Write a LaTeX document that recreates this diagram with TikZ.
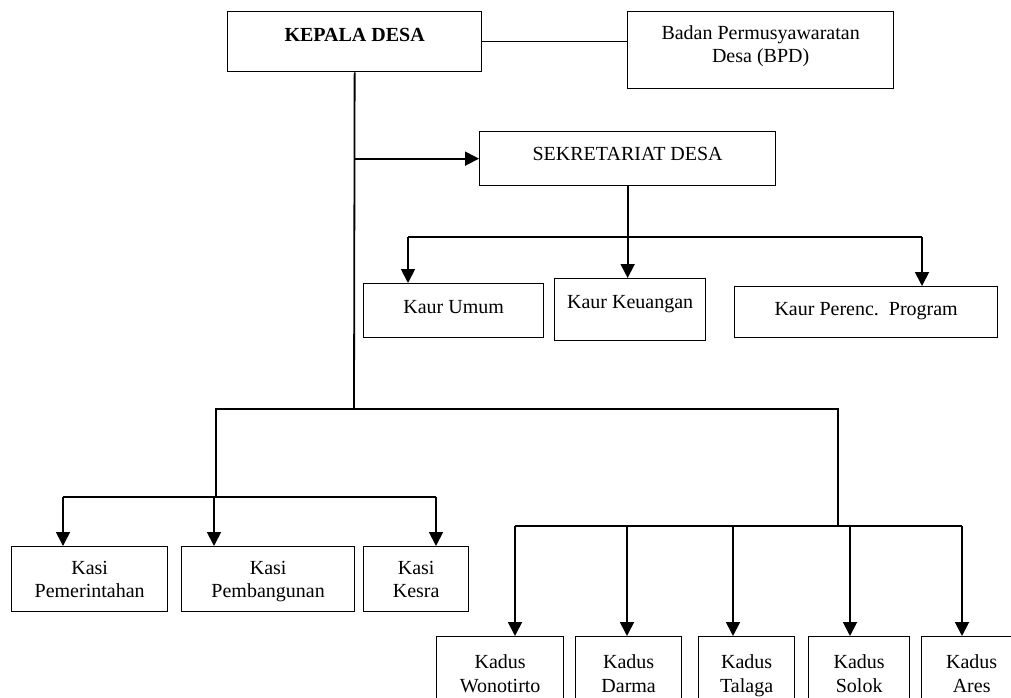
\documentclass[tikz,border=0pt]{standalone}
\usepackage{fontspec}
\setmainfont{Liberation Serif}
\usetikzlibrary{arrows.meta}
\tikzstyle{kotak}=[draw, rectangle, line width=1.3pt, anchor=north west, align=center, inner sep=0pt, font=\fontsize{20}{23.5}\selectfont]
\tikzstyle{garis}=[line width=1.8pt]
\tikzstyle{panah}=[line width=1.8pt, -{Triangle[length=14pt,width=14pt]}]

\begin{document}
\begin{tikzpicture}[x=1pt, y=-1pt]
    \useasboundingbox (0,0) rectangle (1011,698);

    % Kepala desa, BPD dan sekretariat
    \node[kotak, minimum width=254, minimum height=60, text depth=13.5pt] (kades) at (227,11) {\textbf{KEPALA DESA}};
    \node[kotak, minimum width=266, minimum height=77, text depth=12pt] (bpd) at (627,11) {Badan Permusyawaratan\\Desa (BPD)};
    \node[kotak, minimum width=296, minimum height=54, text depth=10pt] (sekdes) at (479,131) {SEKRETARIAT DESA};

    % Kaur
    \node[kotak, minimum width=180, minimum height=54, text depth=8pt] (umum) at (363,283) {Kaur Umum};
    \node[kotak, minimum width=151, minimum height=62, text depth=16pt] (keu) at (554,278) {Kaur Keuangan};
    \node[kotak, minimum width=263, minimum height=51, text height=13.5pt, text depth=7pt] (perenc) at (734,286) {Kaur Perenc.\ \ Program};

    % Kasi
    \node[kotak, minimum width=156, minimum height=65, text depth=0pt] (pem) at (11,546) {Kasi\\Pemerintahan};
    \node[kotak, minimum width=173, minimum height=65, text depth=0pt] (bang) at (181,546) {Kasi\\Pembangunan};
    \node[kotak, minimum width=105, minimum height=65, text depth=0pt] (kesra) at (363,546) {Kasi\\Kesra};

    % Kadus
    \foreach \x/\w/\n/\t in {436/127/wono/Wonotirto, 575/106/darma/Darma, 698/96/talaga/Talaga, 808/101/solok/Solok, 921/100/ares/Ares}
        \node[kotak, minimum width=\w, minimum height=74, text depth=0pt] (\n) at (\x,636) {Kadus\\\t};

    % Titik cabang
    \coordinate (cabang) at (354,409);
    \coordinate (kiri) at (216,409);
    \coordinate (kanan) at (838,409);
    \coordinate (kasibus) at (216,497);
    \coordinate (kadusbus) at (838,526);
    \coordinate (kaurkiri) at (408,237);
    \coordinate (kaurkanan) at (922,237);

    % Garis
    \draw[line width=1.3pt] (kades.east) -- (kades.east -| bpd.west);
    \draw[garis] (kades.south) -- (cabang);
    \draw[panah] (kades.south |- sekdes.west) -- (sekdes.west);
    \draw[panah] (sekdes.south) -- (sekdes.south |- keu.north);
    \draw[garis] (kaurkiri) -- (kaurkanan);
    \draw[panah] (kaurkiri) -- (kaurkiri |- umum.north);
    \draw[panah] (kaurkanan) -- (kaurkanan |- perenc.north);
    \draw[garis] (kasibus) -- (kiri) -- (kanan) -- (kadusbus);

    % Panah kasi
    \draw[garis] (63,497) -- (436,497);
    \foreach \x/\n in {63/pem, 214/bang, 436/kesra}
        \draw[panah] (\x,497) -- (\x,497 |- \n.north);

    % Panah kadus
    \draw[garis] (515,526) -- (962,526);
    \foreach \x/\n in {515/wono, 627/darma, 733/talaga, 850/solok, 962/ares}
        \draw[panah] (\x,526) -- (\x,526 |- \n.north);
\end{tikzpicture}
\end{document}
